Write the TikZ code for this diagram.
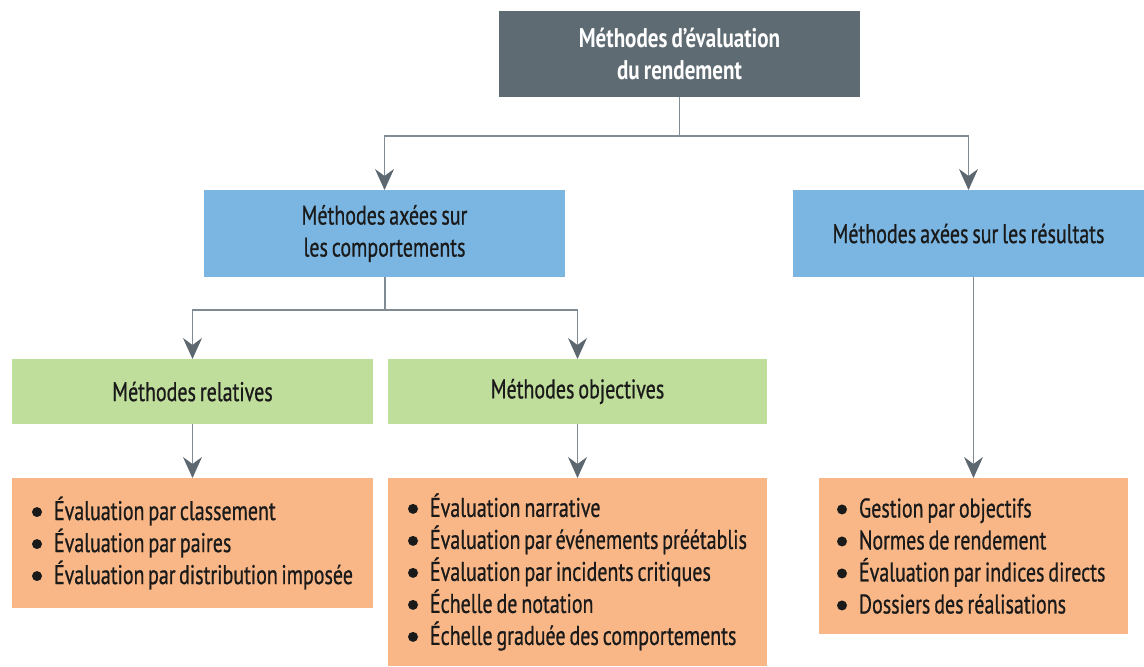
\documentclass[tikz,border=0pt]{standalone}
\usepackage{fontspec}
\setmainfont{PT Sans}[FakeStretch=0.74, WordSpace=0.74, FakeBold=0.7]
\newfontfamily\hdfont{PT Sans}[FakeStretch=0.78, WordSpace=0.78]
\usetikzlibrary{arrows.meta}
\definecolor{topc}{HTML}{5E6B73}
\definecolor{bluec}{HTML}{7AB6E1}
\definecolor{greenc}{HTML}{BFDD9B}
\definecolor{orangec}{HTML}{F9B787}
\definecolor{linec}{HTML}{808B93}
\definecolor{tipc}{HTML}{5C6770}
\definecolor{txt}{HTML}{1A1A1A}
\hyphenpenalty=10000
\newcommand{\blt}{\tikz[baseline=-8pt]\fill[txt] (0pt,0pt) circle[radius=5pt];\hspace{12pt}}
\begin{document}
\begin{tikzpicture}[x=1pt,y=-1pt,
  box/.style={anchor=north west, inner sep=0pt, outer sep=0pt, align=center,
    font=\fontsize{27}{32}\selectfont, text=txt},
  topbox/.style={box, fill=topc, text=white, font=\hdfont\bfseries\fontsize{27}{32}\selectfont},
  bluebox/.style={box, fill=bluec},
  greenbox/.style={box, fill=greenc},
  listbox/.style={box, fill=orangec, align=left, inner xsep=20pt,
    execute at begin node={\spaceskip=0pt\xspaceskip=0pt}},
  conn/.style={draw=linec, line width=1.3pt},
  arr/.style={conn, -{Stealth[length=21pt,width=19pt,inset=7pt,fill=tipc,color=tipc]}}]
\useasboundingbox (0,0) rectangle (1144,667);

\node[topbox, minimum width=361pt, minimum height=86pt] (top) at (499,11)
  {Méthodes d’évaluation\\du rendement};

\node[bluebox, minimum width=361pt, minimum height=87pt] (blb) at (204,190)
  {Méthodes axées sur\\les comportements};
\node[bluebox, minimum width=351pt, minimum height=87pt] (brb) at (793,190)
  {Méthodes axées sur les résultats};

\node[greenbox, minimum width=361pt, minimum height=65pt] (grl) at (12,359)
  {Méthodes relatives};
\node[greenbox, minimum width=379pt, minimum height=65pt] (grr) at (388,359)
  {Méthodes objectives};

\node[listbox, minimum width=361pt, minimum height=130pt, text width=321pt] (or1) at (12,478)
  {\blt Évaluation par classement\\
   \blt Évaluation par paires\\
   \blt Évaluation par distribution imposée};
\node[listbox, minimum width=379pt, minimum height=188pt, text width=339pt] (or2) at (388,478)
  {\blt Évaluation narrative\\
   \blt Évaluation par événements préétablis\\
   \blt Évaluation par incidents critiques\\
   \blt Échelle de notation\\
   \blt Échelle graduée des comportements};
\node[listbox, minimum width=309pt, minimum height=156pt, text width=273pt, inner xsep=18pt] (or3) at (819,478)
  {\blt Gestion par objectifs\\
   \blt Normes de rendement\\
   \blt Évaluation par indices directs\\
   \blt Dossiers des réalisations};

\coordinate (j1) at (679,136);
\coordinate (j2) at (385,310);
\draw[conn] (top.south) -- (top.south |- j1);
\draw[arr] (top.south |- j1) -| (blb.north);
\draw[arr] (top.south |- j1) -| (brb.north);
\draw[conn] (j2 |- blb.south) -- (j2);
\draw[arr] (j2) -| (grl.north);
\draw[arr] (j2) -| (grr.north);
\draw[arr] (grl.south) -- (or1.north);
\draw[arr] (grr.south) -- (or2.north);
\draw[arr] (or3.north |- brb.south) -- (or3.north);
\end{tikzpicture}
\end{document}
